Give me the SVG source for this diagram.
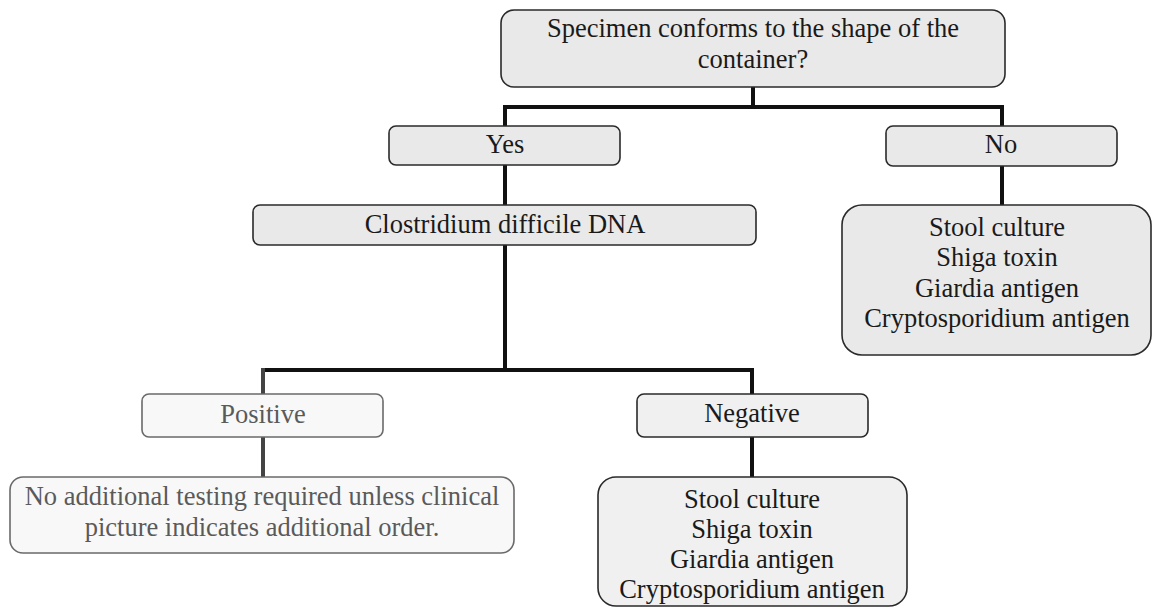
<svg xmlns="http://www.w3.org/2000/svg" width="1153" height="609" viewBox="0 0 1153 609">
  <style>
    .t { font-family: 'Liberation Serif', 'DejaVu Serif', 'Times New Roman', Times, serif; font-size: 26.5px; fill: #1a1a1a; text-anchor: middle; }
    .tg { fill: #5a5a5a; }
    .box { stroke: #2a2a2a; stroke-width: 1.6; }
    .dark { fill: #e9e9e9; }
    .mid { fill: #f0f0f0; }
    .light { fill: #f8f8f8; stroke: #6a6a6a; }
    .conn { stroke: #111; stroke-width: 4; fill: none; stroke-linecap: square; }
    .conng { stroke: #444; stroke-width: 4; fill: none; stroke-linecap: square; }
  </style>
  <rect width="1153" height="609" fill="#ffffff"/>

  <g id="connectors">
    <path class="conn" d="M753 88 V107 M505 107 H1002 M505 107 V125 M1002 107 V125"/>
    <path class="conn" d="M505 166 V204"/>
    <path class="conn" d="M1002 167 V204"/>
    <path class="conn" d="M505 246 V370 M263 370 H752 M752 370 V393"/>
    <path class="conng" d="M263 370 V393"/>
    <path class="conng" d="M263 438 V476"/>
    <path class="conn" d="M752 438 V476"/>
  </g>

  <g id="node-question" font-family="Liberation Serif, serif">
    <rect class="box dark" x="501" y="10" width="504" height="77" rx="13"/>
    <text class="t" x="753" y="37">Specimen conforms to the shape of the</text>
    <text class="t" x="753" y="68">container?</text>
  </g>

  <g id="node-yes">
    <rect class="box dark" x="389" y="126" width="231" height="39" rx="7"/>
    <text class="t" x="505" y="153">Yes</text>
  </g>

  <g id="node-no">
    <rect class="box dark" x="886" y="126" width="231" height="40" rx="7"/>
    <text class="t" x="1001" y="153">No</text>
  </g>

  <g id="node-cdiff">
    <rect class="box dark" x="253" y="205" width="503" height="40" rx="7"/>
    <text class="t" x="505" y="233">Clostridium difficile DNA</text>
  </g>

  <g id="node-no-tests">
    <rect class="box dark" x="842" y="205" width="309" height="150" rx="20"/>
    <text class="t" x="997" y="236">Stool culture</text>
    <text class="t" x="997" y="266">Shiga toxin</text>
    <text class="t" x="997" y="297">Giardia antigen</text>
    <text class="t" x="997" y="327">Cryptosporidium antigen</text>
  </g>

  <g id="node-positive">
    <rect class="box light" x="142" y="394" width="241" height="43" rx="7"/>
    <text class="t tg" x="263" y="423">Positive</text>
  </g>

  <g id="node-negative">
    <rect class="box mid" x="637" y="394" width="231" height="43" rx="7"/>
    <text class="t" x="752" y="422">Negative</text>
  </g>

  <g id="node-positive-result">
    <rect class="box light" x="10" y="477" width="504" height="76" rx="13"/>
    <text class="t tg" x="262" y="505">No additional testing required unless clinical</text>
    <text class="t tg" x="262" y="536">picture indicates additional order.</text>
  </g>

  <g id="node-negative-tests">
    <rect class="box mid" x="598" y="477" width="309" height="129" rx="18"/>
    <text class="t" x="752" y="508">Stool culture</text>
    <text class="t" x="752" y="538">Shiga toxin</text>
    <text class="t" x="752" y="568">Giardia antigen</text>
    <text class="t" x="752" y="598">Cryptosporidium antigen</text>
  </g>
</svg>
